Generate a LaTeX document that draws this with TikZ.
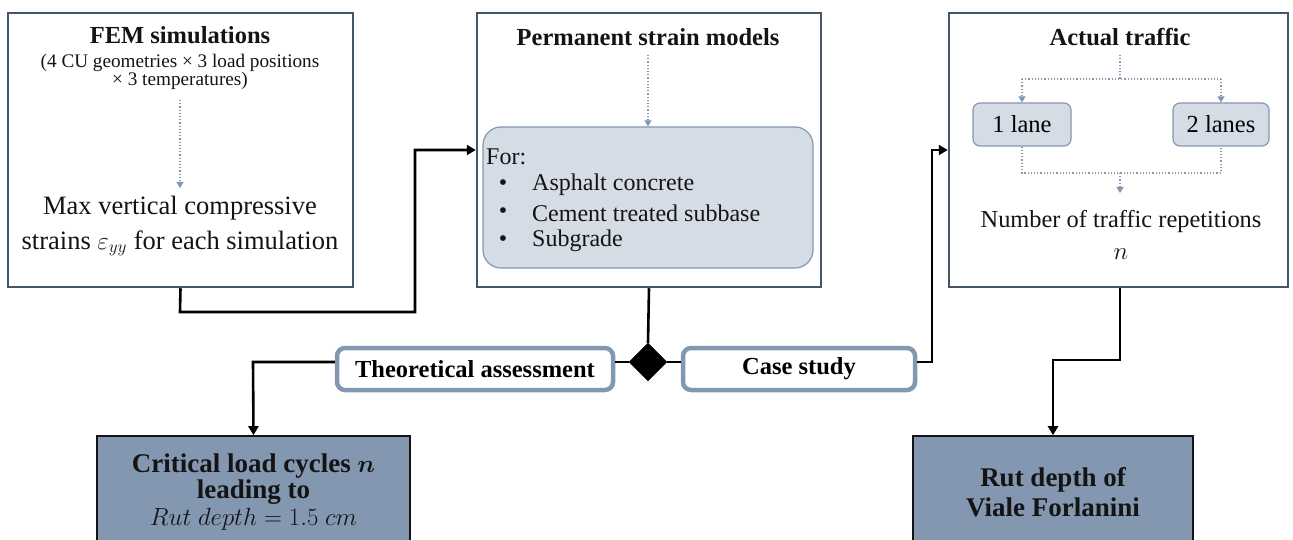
\documentclass[tikz,border=0pt]{standalone}
\usepackage{amsmath,bm}
\usepackage{fontspec}
\setmainfont{Liberation Serif}
\usetikzlibrary{shapes.geometric,arrows.meta}
\definecolor{outerc}{HTML}{44546A}
\definecolor{lightc}{HTML}{D6DCE5}
\definecolor{midc}{HTML}{8497B0}
\definecolor{txtc}{HTML}{141414}
\tikzset{
  outerbox/.style={draw=outerc, line width=2.5pt, fill=white, rectangle, inner sep=0pt},
  innerbox/.style={draw=midc, line width=1.2pt, fill=lightc, rectangle, rounded corners=18pt, inner sep=0pt},
  lanebox/.style={draw=midc, line width=1.2pt, fill=lightc, rectangle, rounded corners=7pt, inner sep=0pt, font=\fontsize{24.5}{26}\selectfont},
  labelbox/.style={draw=midc, line width=4.5pt, fill=white, rectangle, rounded corners=8pt, inner sep=0pt, font=\fontsize{24.5}{26}\selectfont\bfseries},
  resultbox/.style={draw=txtc, line width=1.6pt, fill=midc, rectangle, inner sep=0pt},
  conn/.style={draw=black, line width=2.6pt},
  arr/.style={conn, -{Triangle[length=9pt,width=10pt]}},
  dotconn/.style={draw=midc, line width=1.2pt, dotted},
  dotarr/.style={dotconn, -{Triangle[length=6pt,width=7pt]}},
  txt/.style={text=txtc, inner sep=0pt, align=center},
  titletxt/.style={txt, font=\fontsize{24.5}{26}\selectfont\bfseries},
  listtxt/.style={txt, font=\fontsize{24}{26}\selectfont},
}
\begin{document}
\begin{tikzpicture}[x=1pt,y=-1pt]
\useasboundingbox (0,0) rectangle (1293,540);
\clip (0,0) rectangle (1293,540);
% outer boxes
\node[outerbox, minimum width=345pt, minimum height=274pt] (fem) at (180.5,150) {};
\node[outerbox, minimum width=344pt, minimum height=274pt] (perm) at (649,150) {};
\node[outerbox, minimum width=339pt, minimum height=274pt] (act) at (1118.5,150) {};
% FEM content
\node[titletxt] (femt) at (180,35) {FEM simulations};
\node[txt, font=\fontsize{19.2}{16.5}\selectfont] (femsub) at (180,72) {(4 CU geometries × 3 load positions\\× 3 temperatures)};
\node[txt, font=\fontsize{26.5}{35}\selectfont] (femres) at (180,226) {Max vertical compressive\\strains $\varepsilon_{yy}$ for each simulation};
\coordinate (femd1) at (180,100);
\coordinate (femd2) at (180,188);
\draw[dotarr] (femd1) -- (femd2);
% Permanent content
\node[titletxt] (permt) at (648,37) {Permanent strain models};
\node[innerbox, minimum width=330pt, minimum height=141pt] (inner) at (648,197.5) {};
\node[listtxt, anchor=west] (for) at (486,157) {For:};
\node[listtxt] (b1) at (503,185) {•};
\node[listtxt] (b2) at (503,213) {•};
\node[listtxt] (b3) at (503,241) {•};
\node[listtxt, anchor=west] (l1) at (532,185) {Asphalt concrete};
\node[listtxt, anchor=west] (l2) at (532,213) {Cement treated subbase};
\node[listtxt, anchor=west] (l3) at (532,241) {Subgrade};
\coordinate (permd1) at (648,55);
\draw[dotarr] (permd1) -- (inner.north);
% Actual traffic content
\node[titletxt] (actt) at (1120,37) {Actual traffic};
\node[lanebox, minimum width=98pt, minimum height=43pt] (lane1) at (1022,124.5) {1 lane};
\node[lanebox, minimum width=96pt, minimum height=43pt] (lane2) at (1221,124.5) {2 lanes};
\node[txt, font=\fontsize{24.4}{32}\selectfont] (nrep) at (1121,235) {Number of traffic repetitions\\$n$};
\coordinate (actd1) at (1120,55);
\coordinate (actd2) at (1120,79);
\coordinate (actd3) at (1120,173);
\coordinate (actd4) at (1120,193);
\draw[dotconn] (actd1) -- (actd2);
\draw[dotconn] (lane1.north |- actd2) -- (lane2.north |- actd2);
\draw[dotarr] (lane1.north |- actd2) -- (lane1.north);
\draw[dotarr] (lane2.north |- actd2) -- (lane2.north);
\draw[dotconn] (lane1.south) -- (lane1.south |- actd3) -- (lane2.south |- actd3) -- (lane2.south);
\draw[dotarr] (actd3) -- (actd4);
% middle row
\node[diamond, fill=black, draw=black, minimum width=38pt, minimum height=38pt, inner sep=0pt] (dia) at (648,362) {};
\node[labelbox, minimum width=276pt, minimum height=42pt] (theo) at (475,369) {Theoretical assessment};
\node[labelbox, minimum width=232pt, minimum height=42pt] (case) at (799,369) {Case study};
% result boxes
\node[resultbox, minimum width=313pt, minimum height=150pt] (crit) at (253.5,511) {};
\node[resultbox, minimum width=280pt, minimum height=150pt] (rut) at (1053,511) {};
\node[txt, font=\fontsize{27}{26.5}\selectfont\bfseries] (critt) at (253.5,492) {Critical load cycles $\bm{n}$\\leading to\\\normalfont$Rut\ depth = 1.5\ cm$};
\node[txt, font=\fontsize{27}{30}\selectfont\bfseries] (rutt) at (1053,492) {Rut depth of\\Viale Forlanini};
% connectors
\coordinate (c1) at (180,312);
\coordinate (c2) at (415,312);
\draw[arr] (fem.south) -- (c1) -- (c2) -- (c2 |- perm.west) -- (perm.west);
\draw[conn] (perm.south) -- (dia.north);
\draw[conn] (dia.west) -- (dia.west -| theo.east);
\draw[conn] (dia.east) -- (dia.east -| case.west);
\coordinate (c3) at (253,362);
\draw[arr] (dia.west -| theo.west) -- (c3) -- (crit.north);
\coordinate (c4) at (932,362);
\draw[arr] (dia.east -| case.east) -- (c4) -- (c4 |- act.west) -- (act.west);
\coordinate (c5) at (1120,360);
\coordinate (c6) at (1053,360);
\draw[arr] (act.south -| c5) -- (c5) -- (c6) -- (rut.north);
\end{tikzpicture}
\end{document}
